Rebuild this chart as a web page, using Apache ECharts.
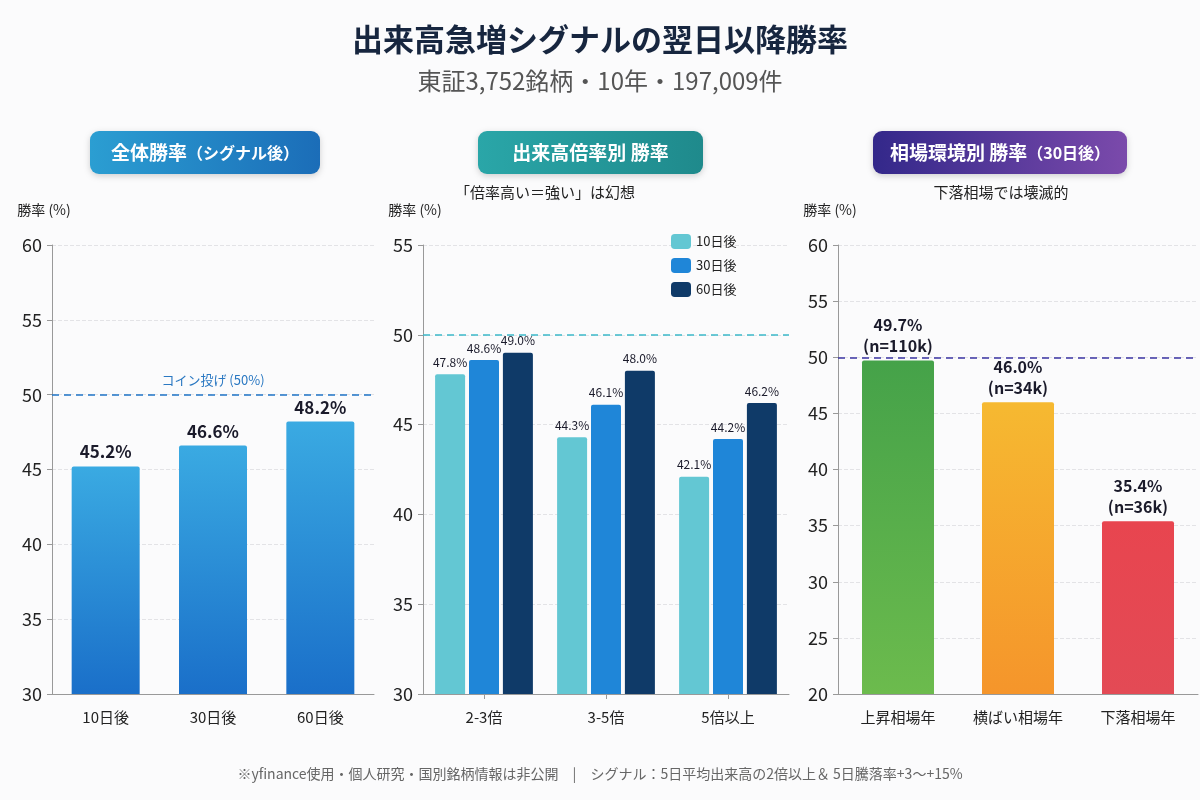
<!DOCTYPE html>
<html>
<head>
<meta charset="utf-8">
<script src="https://cdn.jsdelivr.net/npm/echarts@6/dist/echarts.min.js"></script>
<style>
  body { margin: 0; background: #fbfbfc; }
  #main { width: 1200px; height: 800px; }
</style>
</head>
<body>
<div id="main"></div>
<script>
// 全体勝率
const overallCats = ['10日後', '30日後', '60日後'];
const overallVals = [45.2, 46.6, 48.2];

// 出来高倍率別
const ratioCats = ['2-3倍', '3-5倍', '5倍以上'];
const ratioNames = ['10日後', '30日後', '60日後'];
const ratio10 = [47.8, 44.3, 42.1];
const ratio30 = [48.6, 46.1, 44.2];
const ratio60 = [49.0, 48.0, 46.2];

// 相場環境別 (30日後)
const marketCats = ['上昇相場年', '横ばい相場年', '下落相場年'];
const marketVals = [49.7, 46.0, 35.4];
const marketN = ['110k', '34k', '36k'];

const FONT = '"Noto Sans CJK JP", "Noto Sans", sans-serif';
const lg = (a, b) => new echarts.graphic.LinearGradient(0, 0, 0, 1, [{offset: 0, color: a}, {offset: 1, color: b}]);

const ratioColors = ['#63c7d3', '#1f86d8', '#0f3a68'];
const marketColors = [lg('#45a249', '#6cbb4d'), lg('#f6b931', '#f5952b'), lg('#e8454f', '#e34a55')];

function yAxis(gridIndex, min, max) {
  return {
    type: 'value', gridIndex: gridIndex, min: min, max: max, interval: 5,
    name: '勝率 (%)', nameLocation: 'end', nameGap: 28,
    nameTextStyle: {color: '#222', fontSize: 14, fontFamily: FONT, align: 'center', padding: [0, 16, 0, 0]},
    axisLine: {show: true, lineStyle: {color: '#999'}},
    axisTick: {show: true, length: 5, lineStyle: {color: '#999'}},
    axisLabel: {color: '#222', fontSize: 18, fontFamily: FONT, margin: 10},
    splitLine: {lineStyle: {color: '#e3e3e6', type: 'dashed'}}
  };
}
function xAxis(gridIndex, cats, tick) {
  return {
    type: 'category', gridIndex: gridIndex, data: cats,
    axisLine: {lineStyle: {color: '#999'}},
    axisTick: {show: tick, alignWithLabel: true, lineStyle: {color: '#999'}},
    axisLabel: {color: '#222', fontSize: 15, fontFamily: FONT, margin: 16, interval: 0}
  };
}
function badge(x, w, c1, c2, rich) {
  return [
    {type: 'rect', shape: {x: x, y: 131, width: w, height: 43, r: 9},
     style: {fill: new echarts.graphic.LinearGradient(0, 0, 1, 0, [{offset: 0, color: c1}, {offset: 1, color: c2}]),
             shadowBlur: 6, shadowColor: 'rgba(0,0,0,0.18)', shadowOffsetY: 2}},
    {type: 'text', x: x + w / 2, y: 153,
     style: {text: rich, fill: '#fff', align: 'center', verticalAlign: 'middle',
             rich: {a: {fontSize: 19, fontWeight: 'bold', fill: '#fff', fontFamily: FONT},
                    b: {fontSize: 16, fontWeight: 'bold', fill: '#fff', fontFamily: FONT}}}}
  ];
}

const chart = echarts.init(document.getElementById('main'));
const option = {
  backgroundColor: '#fbfbfc',
  title: [
    {text: '出来高急増シグナルの翌日以降勝率', left: 'center', top: 19,
     textStyle: {fontSize: 31, fontWeight: 'bold', color: '#17263f', fontFamily: FONT}},
    {text: '東証3,752銘柄・10年・197,009件', left: 'center', top: 64,
     textStyle: {fontSize: 24, fontWeight: 'normal', color: '#555', fontFamily: FONT}},
    {text: '「倍率高い＝強い」は幻想', left: 540, top: 180, textAlign: 'center',
     textStyle: {fontSize: 15, fontWeight: 'normal', color: '#222', fontFamily: FONT}},
    {text: '下落相場では壊滅的', left: 996, top: 180, textAlign: 'center',
     textStyle: {fontSize: 15, fontWeight: 'normal', color: '#222', fontFamily: FONT}},
    {text: '※yfinance使用・個人研究・国別銘柄情報は非公開　|　シグナル：5日平均出来高の2倍以上＆ 5日騰落率+3〜+15%',
     left: 'center', top: 762,
     textStyle: {fontSize: 14, fontWeight: 'normal', color: '#666', fontFamily: FONT}}
  ],
  graphic: [].concat(
    badge(90, 230, '#2b9ed2', '#1b6db8', '{a|全体勝率}{b|（シグナル後）}'),
    badge(478, 225, '#2aa6a8', '#1f8a8c', '{a|出来高倍率別 勝率}'),
    badge(873, 254, '#33288a', '#7b4aab', '{a|相場環境別 勝率}{b|（30日後）}')
  ),
  legend: {
    data: ratioNames, orient: 'vertical', left: 666, top: 229, itemGap: 9,
    itemWidth: 20, itemHeight: 15, icon: 'roundRect',
    textStyle: {fontSize: 13, color: '#222', fontFamily: FONT}
  },
  grid: [
    {left: 52, top: 245, width: 322, bottom: 106},
    {left: 423, top: 245, width: 366, bottom: 106},
    {left: 838, top: 245, width: 360, bottom: 106}
  ],
  xAxis: [xAxis(0, overallCats, false), xAxis(1, ratioCats, true), xAxis(2, marketCats, false)],
  yAxis: [yAxis(0, 30, 60), yAxis(1, 30, 55), yAxis(2, 20, 60)],
  series: [
    {
      name: '全体', type: 'bar', xAxisIndex: 0, yAxisIndex: 0, data: overallVals, barWidth: 68,
      itemStyle: {color: lg('#3aaae2', '#1a6fc9'), borderRadius: [2, 2, 0, 0]},
      label: {show: true, position: 'top', distance: 6, formatter: p => p.value.toFixed(1) + '%',
              fontSize: 17, fontWeight: 'bold', color: '#1a1a2a', fontFamily: FONT},
      markLine: {
        symbol: 'none', silent: true,
        lineStyle: {color: '#1f74c6', type: [7, 5], width: 1.5},
        label: {show: true, position: 'middle', formatter: 'コイン投げ (50%)', color: '#2a78c2', fontSize: 13, fontFamily: FONT, distance: 8},
        data: [{yAxis: 50}]
      }
    },
    {
      name: ratioNames[0], type: 'bar', xAxisIndex: 1, yAxisIndex: 1, data: ratio10, barWidth: 30, barGap: '13%',
      itemStyle: {color: ratioColors[0], borderRadius: [2, 2, 0, 0]},
      label: {show: true, position: 'top', distance: 6, formatter: p => p.value.toFixed(1) + '%', fontSize: 12, color: '#1a1a2a', fontFamily: FONT},
      markLine: {
        symbol: 'none', silent: true, label: {show: false},
        lineStyle: {color: '#3cb9c9', type: [7, 5], width: 1.5},
        data: [{yAxis: 50}]
      }
    },
    {
      name: ratioNames[1], type: 'bar', xAxisIndex: 1, yAxisIndex: 1, data: ratio30, barWidth: 30, barGap: '13%',
      itemStyle: {color: ratioColors[1], borderRadius: [2, 2, 0, 0]},
      label: {show: true, position: 'top', distance: 6, formatter: p => p.value.toFixed(1) + '%', fontSize: 12, color: '#1a1a2a', fontFamily: FONT}
    },
    {
      name: ratioNames[2], type: 'bar', xAxisIndex: 1, yAxisIndex: 1, data: ratio60, barWidth: 30, barGap: '13%',
      itemStyle: {color: ratioColors[2], borderRadius: [2, 2, 0, 0]},
      label: {show: true, position: 'top', distance: 6, formatter: p => p.value.toFixed(1) + '%', fontSize: 12, color: '#1a1a2a', fontFamily: FONT}
    },
    {
      name: '相場環境', type: 'bar', xAxisIndex: 2, yAxisIndex: 2, barWidth: 72,
      data: marketVals.map((v, i) => ({value: v, itemStyle: {color: marketColors[i]}})),
      itemStyle: {borderRadius: [2, 2, 0, 0]},
      label: {show: true, position: 'top', distance: 4, lineHeight: 21,
              formatter: p => p.value.toFixed(1) + '%\n(n=' + marketN[p.dataIndex] + ')',
              fontSize: 16, fontWeight: 'bold', color: '#1a1a2a', fontFamily: FONT},
      markLine: {
        symbol: 'none', silent: true, label: {show: false},
        lineStyle: {color: '#3b35a3', type: [7, 5], width: 1.5},
        data: [{yAxis: 50}]
      }
    }
  ]
};
chart.setOption(option);
</script>
</body>
</html>
